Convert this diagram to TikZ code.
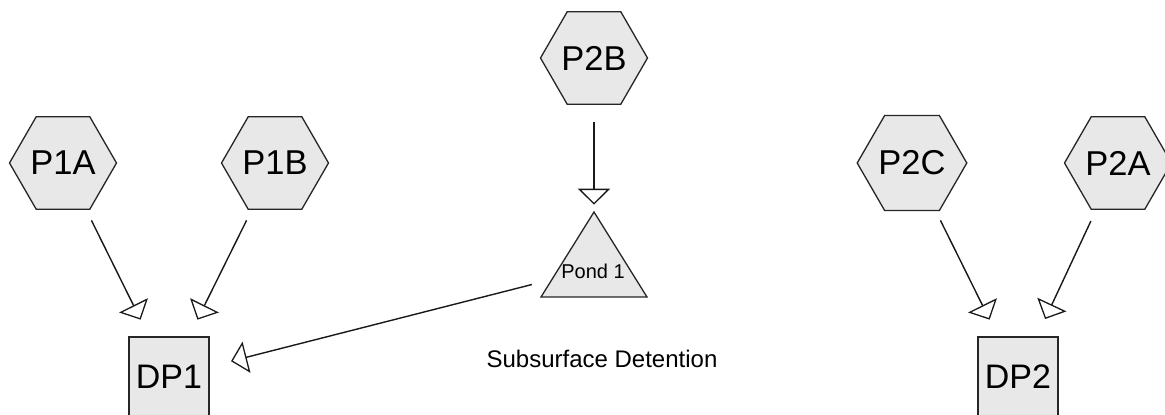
\documentclass[tikz,border=0pt]{standalone}
\usepackage{fontspec}
\setmainfont{Liberation Sans}
\usetikzlibrary{shapes.geometric,arrows.meta}

\definecolor{shapefill}{gray}{0.91}
\definecolor{edge}{gray}{0.15}

\tikzset{
  hexnode/.style={regular polygon, regular polygon sides=6, minimum size=107pt,
    inner sep=0pt, draw=edge, fill=shapefill, line width=1.3pt,
    font=\fontsize{34.5}{40}\selectfont},
  boxnode/.style={rectangle, minimum width=80pt, minimum height=80pt,
    inner sep=0pt, draw=edge, fill=shapefill, line width=1.3pt,
    font=\fontsize{34}{40}\selectfont},
  flow/.style={draw=black!90, line width=1.4pt, shorten <=64pt, shorten >=64pt,
    -{Triangle[open, length=16pt, width=32pt, line width=1.3pt]}},
}

\begin{document}
\begin{tikzpicture}[x=1pt, y=-1pt]
  \useasboundingbox (0,0) rectangle (1165,415);
  \clip (0,0) rectangle (1165,415);

  % subcatchments
  \node[hexnode] (P1A) at (63,163) {P1A};
  \node[hexnode] (P1B) at (275,163) {P1B};
  \node[hexnode] (P2B) at (594,58) {P2B};
  \node[hexnode] (P2C) at (912,163) {P2C};
  \node[hexnode] (P2A) at (1118,163) {P2A};

  % design points
  \node[boxnode] (DP1) at (169,377) {DP1};
  \node[boxnode] (DP2) at (1018,377) {DP2};

  % pond
  \draw[draw=edge, fill=shapefill, line width=1.3pt, line join=miter]
    (594,212) -- (647,297) -- (541,297) -- cycle;
  \coordinate (pondc) at (594,268.7);
  \node[font=\fontsize{20}{22}\selectfont, inner sep=0pt] (pond) at (593,271) {Pond 1};

  \node[font=\fontsize{24}{28}\selectfont, inner sep=0pt, anchor=base] (subsurf) at (602,367) {Subsurface Detention};

  % routing
  \draw[flow] (P1A.center) -- (DP1.center);
  \draw[flow] (P1B.center) -- (DP1.center);
  \draw[flow] (P2B.center) -- (pondc);
  \draw[flow] (pondc) -- (DP1.center);
  \draw[flow] (P2C.center) -- (DP2.center);
  \draw[flow] (P2A.center) -- (DP2.center);
\end{tikzpicture}
\end{document}
